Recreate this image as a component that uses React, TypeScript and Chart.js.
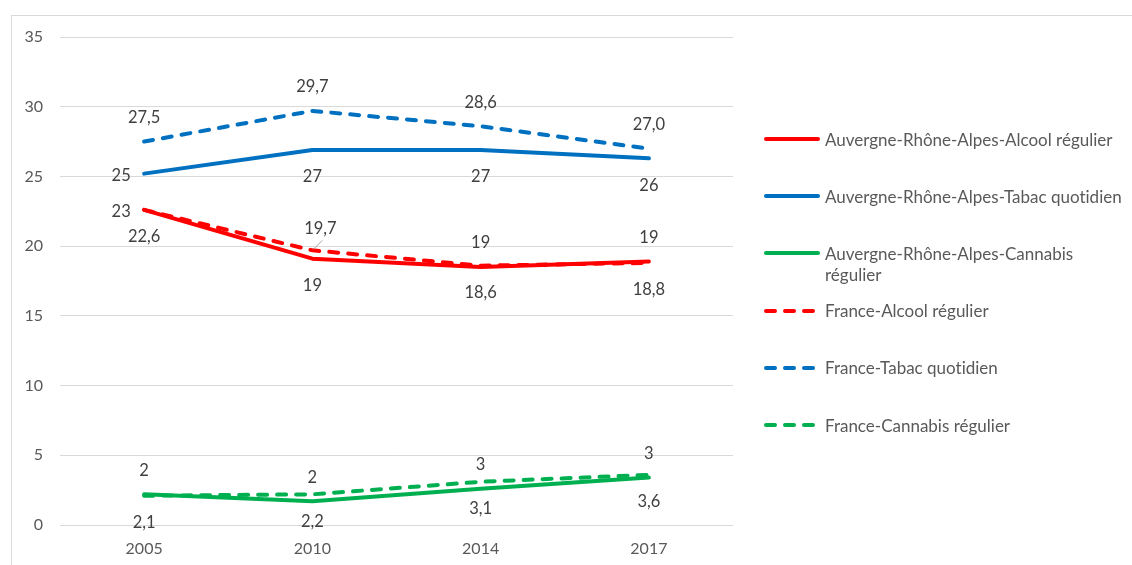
import { useEffect, useRef } from 'react';
import { Chart, registerables } from 'chart.js';

Chart.register(...registerables);

// ── Data ──────────────────────────────────────────────────
const years = ['2005', '2010', '2014', '2017'];
const araAlcool = [22.6, 19.1, 18.5, 18.9];
const araTabac = [25.2, 26.9, 26.9, 26.3];
const araCannabis = [2.2, 1.7, 2.6, 3.4];
const frAlcool = [22.6, 19.7, 18.6, 18.8];
const frTabac = [27.5, 29.7, 28.6, 27.0];
const frCannabis = [2.1, 2.2, 3.1, 3.6];
const yMin = 0;
const yMax = 35;
const yStep = 5;

const RED = '#FF0000';
const BLUE = '#0070C0';
const GREEN = '#00B050';
const FONT = 'Lato, "Open Sans", sans-serif';
const TICK = '#595959';
const LABEL = '#404040';

type Place = 'above' | 'below' | 'left' | 'leader';

// where each value label sits relative to its point
const OFFSETS: Record<Place, [number, number]> = {
  above: [0, -24],
  below: [0, 27],
  left: [-23, 2],
  leader: [8, -22],
};

const series = [
  { label: 'Auvergne-Rhône-Alpes-Alcool régulier', data: araAlcool, color: RED, dashed: false, decimals: 0, places: ['left', 'below', 'above', 'above'] as Place[] },
  { label: 'Auvergne-Rhône-Alpes-Tabac quotidien', data: araTabac, color: BLUE, dashed: false, decimals: 0, places: ['left', 'below', 'below', 'below'] as Place[] },
  { label: 'Auvergne-Rhône-Alpes-Cannabis régulier', data: araCannabis, color: GREEN, dashed: false, decimals: 0, places: ['above', 'above', 'above', 'above'] as Place[] },
  { label: 'France-Alcool régulier', data: frAlcool, color: RED, dashed: true, decimals: 1, places: ['below', 'leader', 'below', 'below'] as Place[] },
  { label: 'France-Tabac quotidien', data: frTabac, color: BLUE, dashed: true, decimals: 1, places: ['above', 'above', 'above', 'above'] as Place[] },
  { label: 'France-Cannabis régulier', data: frCannabis, color: GREEN, dashed: true, decimals: 1, places: ['below', 'below', 'below', 'below'] as Place[] },
];

const fmt = (v: number, d: number) => v.toFixed(d).replace('.', ',');

// draws the Excel-style value labels
const valueLabels = {
  id: 'valueLabels',
  afterDatasetsDraw(chart: any) {
    const ctx = chart.ctx;
    ctx.save();
    ctx.font = `16.5px ${FONT}`;
    ctx.fillStyle = LABEL;
    ctx.textAlign = 'center';
    ctx.textBaseline = 'middle';
    series.forEach((s, di) => {
      const meta = chart.getDatasetMeta(di);
      meta.data.forEach((pt: any, i: number) => {
        const [dx, dy] = OFFSETS[s.places[i]];
        const x = pt.x + dx;
        const y = pt.y + dy;
        if (s.places[i] === 'leader') {
          ctx.strokeStyle = '#a6a6a6';
          ctx.lineWidth = 1;
          ctx.beginPath();
          ctx.moveTo(pt.x + 1, pt.y - 1);
          ctx.lineTo(x + 2, y + 12);
          ctx.stroke();
        }
        ctx.fillText(fmt(s.data[i], s.decimals), x, y);
      });
    });
    ctx.restore();
  },
};

function LegendSwatch({ color, dashed }: { color: string; dashed: boolean }) {
  return (
    <svg width={58} height={8} style={{ display: 'block', flex: '0 0 auto' }}>
      <line
        x1={3}
        y1={4}
        x2={55}
        y2={4}
        stroke={color}
        strokeWidth={4}
        strokeLinecap="round"
        strokeDasharray={dashed ? '9 10' : undefined}
      />
    </svg>
  );
}

export default function App() {
  const canvasRef = useRef<HTMLCanvasElement>(null);
  const chartRef = useRef<Chart | null>(null);

  useEffect(() => {
    if (!canvasRef.current) return;
    chartRef.current = new Chart(canvasRef.current, {
      type: 'line',
      data: {
        labels: years,
        datasets: series.map((s) => ({
          label: s.label,
          data: s.data,
          borderColor: s.color,
          backgroundColor: s.color,
          borderWidth: 4,
          borderDash: s.dashed ? [9, 10] : [],
          borderCapStyle: 'round',
          borderJoinStyle: 'round',
          pointRadius: 0,
          tension: 0,
          order: s.dashed ? 0 : 1,
        })),
      },
      options: {
        animation: false,
        responsive: true,
        maintainAspectRatio: false,
        layout: { padding: { top: 37, right: 399, left: 0, bottom: 0 } },
        plugins: {
          legend: { display: false },
          tooltip: { enabled: false },
        },
        scales: {
          x: {
            offset: true,
            grid: { display: false, drawTicks: false },
            border: { display: false },
            ticks: { color: TICK, font: { family: FONT, size: 16 }, padding: 14 },
            afterFit: (s: any) => { s.height = 40; },
          },
          y: {
            min: yMin,
            max: yMax,
            grid: { color: '#d9d9d9', lineWidth: 1, drawTicks: false },
            border: { display: false },
            ticks: { stepSize: yStep, color: TICK, font: { family: FONT, size: 16 }, padding: 17 },
            afterFit: (s: any) => { s.width = 60; },
          },
        },
      },
      plugins: [valueLabels],
    });
    return () => { chartRef.current?.destroy(); };
  }, []);

  return (
    <div style={{ position: 'fixed', left: 0, top: 0, width: 1132, height: 565, background: '#fff', overflow: 'hidden', fontFamily: FONT }}>
      {/* chart frame */}
      <div style={{ position: 'absolute', left: 11, top: 15, width: 1200, height: 600, borderLeft: '1px solid #d9d9d9', borderTop: '1px solid #d9d9d9' }} />
      <div style={{ position: 'absolute', left: 0, top: 0, width: 1132, height: 565 }}>
        <canvas ref={canvasRef} />
      </div>
      {/* Legend */}
      {series.map((s, i) => (
        <div
          key={s.label}
          style={{ position: 'absolute', left: 763, top: 139 + i * 57.2 - 10.5, display: 'flex', alignItems: 'flex-start' }}
        >
          <div style={{ height: 21, display: 'flex', alignItems: 'center' }}>
            <LegendSwatch color={s.color} dashed={s.dashed} />
          </div>
          <div style={{ width: 300, marginLeft: 4, fontSize: 17, lineHeight: '21px', color: TICK, fontVariantLigatures: 'none' }}>{s.label}</div>
        </div>
      ))}
    </div>
  );
}
